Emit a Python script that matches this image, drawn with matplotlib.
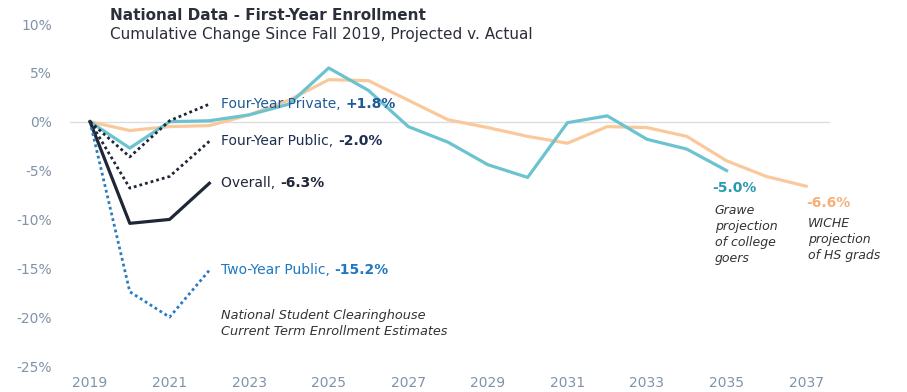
import numpy as np
import matplotlib.pyplot as plt

# NSC actuals, fall 2019-2022 (cumulative % change)
nsc_years = [2019, 2020, 2021, 2022]
overall = [0, -10.4, -10.0, -6.3]
two_year_public = [0, -17.4, -20.0, -15.2]
four_year_public = [0, -6.8, -5.6, -2.0]
four_year_private = [0, -3.6, 0.1, 1.8]

# projections
grawe_years = list(range(2019, 2036))
grawe = [0, -2.7, 0.0, 0.1, 0.7, 1.8, 5.5, 3.2, -0.5, -2.1, -4.4, -5.7,
         -0.1, 0.6, -1.8, -2.8, -5.0]
wiche_years = list(range(2019, 2038))
wiche = [0, -0.9, -0.5, -0.4, 0.7, 2.2, 4.3, 4.2, 2.2, 0.2, -0.6, -1.5,
         -2.2, -0.5, -0.6, -1.5, -4.0, -5.6, -6.6]

xticks = list(range(2019, 2038, 2))
yticks = [10, 5, 0, -5, -10, -15, -20, -25]

teal = '#6cc3d0'
orange = '#f9c99c'
navy = '#1e2638'
blue = '#2a7bbf'
tick_col = '#7f93a8'

fig = plt.figure(figsize=(9.07, 3.92), dpi=100)
ax = fig.add_axes([70/907, 26/392, 760/907, 342/392])
ax.set_xlim(2018.497, 2037.60)
ax.set_ylim(-25, 10)
for s in ax.spines.values():
    s.set_visible(False)
ax.set_xticks(xticks)
ax.set_yticks(yticks)
ax.set_yticklabels([f'{v}%' for v in yticks])
ax.tick_params(length=0, colors=tick_col, labelsize=10)
ax.tick_params(axis='y', pad=13)
ax.tick_params(axis='x', pad=7)
ax.axhline(0, color='#dedede', lw=1, zorder=0)

ax.plot(wiche_years, wiche, color=orange, lw=2.3)
ax.plot(grawe_years, grawe, color=teal, lw=2.3)
ax.plot(nsc_years, overall, color=navy, lw=2.3)
ax.plot(nsc_years, two_year_public, color=blue, lw=2, ls=(0, (1, 1.1)))
ax.plot(nsc_years, four_year_public, color=navy, lw=2, ls=(0, (1, 1.1)))
ax.plot(nsc_years, four_year_private, color=navy, lw=2, ls=(0, (1, 1.1)))


def label(y, name, val, col):
    t = ax.text(2022.3, y, name, color=col, fontsize=10, va='center')
    ax.annotate(val, xy=(1, 0), xycoords=t, va='bottom', ha='left',
                color=col, fontsize=10, fontweight='bold')


label(1.8, 'Four-Year Private, ', '+1.8%', '#1f5a96')
label(-2.0, 'Four-Year Public, ', '-2.0%', '#1e2f52')
label(-6.3, 'Overall, ', '-6.3%', navy)
label(-15.2, 'Two-Year Public, ', '-15.2%', '#1f78c1')

ax.text(2022.3, -20.7, 'National Student Clearinghouse\nCurrent Term Enrollment Estimates',
        style='italic', color='#333333', fontsize=9.3, va='center', linespacing=1.3)

ax.text(2035.2, -6.75, '-5.0%', color='#2a9ab2', fontsize=10, fontweight='bold',
        ha='center', va='center')
ax.text(2037.55, -8.3, '-6.6%', color='#f5b07a', fontsize=10, fontweight='bold',
        ha='center', va='center')
ax.text(2034.7, -11.5, 'Grawe\nprojection\nof college\ngoers', style='italic',
        color='#333333', fontsize=9, va='center', linespacing=1.3)
ax.text(2037.05, -12.1, 'WICHE\nprojection\nof HS grads', style='italic',
        color='#333333', fontsize=9, va='center', linespacing=1.3)

fig.text(110/907, 1 - 15/392, 'National Data - First-Year Enrollment',
         fontsize=11, fontweight='bold', color='#2b2f3a', va='center')
fig.text(110/907, 1 - 35/392, 'Cumulative Change Since Fall 2019, Projected v. Actual',
         fontsize=11, color='#2b2f3a', va='center')

fig.savefig('out.png', dpi=100)
